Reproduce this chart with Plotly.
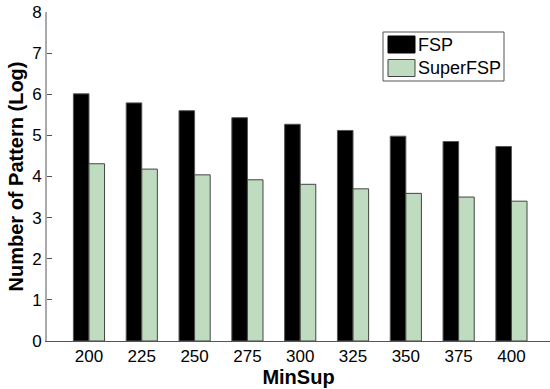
import plotly.graph_objects as go

# MinSup thresholds and log-scaled pattern counts
min_sup = ["200", "225", "250", "275", "300", "325", "350", "375", "400"]
fsp = [6.01, 5.79, 5.60, 5.43, 5.27, 5.12, 4.98, 4.85, 4.73]
super_fsp = [4.31, 4.18, 4.04, 3.92, 3.81, 3.70, 3.59, 3.50, 3.40]

series_names = ["FSP", "SuperFSP"]
series_fill = ["#000000", "#c0dcc0"]
series_edge = ["#555555", "#444444"]

font_family = "Arial, Liberation Sans, sans-serif"

W, H = 550, 389
M_L, M_R, M_T, M_B = 47, 0, 12, 48


def px_x(px):
    """Pixel column -> paper x."""
    return (px - M_L) / (W - M_L - M_R)


def px_y(py):
    """Pixel row -> paper y."""
    return (H - M_B - py) / (H - M_T - M_B)


fig = go.Figure()
for name, vals, fill, edge in zip(series_names, [fsp, super_fsp], series_fill, series_edge):
    fig.add_trace(go.Bar(
        x=min_sup, y=vals, name=name,
        marker=dict(color=fill, line=dict(color=edge, width=1)),
    ))

# Boxed legend with large rectangular swatches
shapes = [dict(
    type="rect", xref="paper", yref="paper",
    x0=px_x(383), x1=px_x(504), y0=px_y(81), y1=px_y(32),
    line=dict(color="#555555", width=1), fillcolor="white", layer="above",
)]
annotations = []
for i, (name, fill, edge) in enumerate(zip(series_names, series_fill, series_edge)):
    top = 36 + i * 23.5
    shapes.append(dict(
        type="rect", xref="paper", yref="paper",
        x0=px_x(388), x1=px_x(415), y0=px_y(top + 17), y1=px_y(top),
        line=dict(color=edge if i else fill, width=1), fillcolor=fill, layer="above",
    ))
    annotations.append(dict(
        text=name, xref="paper", yref="paper",
        x=px_x(416), y=px_y(top + 9), xanchor="left", yanchor="middle",
        showarrow=False, font=dict(size=18, color="#000000"),
    ))

fig.update_layout(
    width=W, height=H,
    margin=dict(l=M_L, r=M_R, t=M_T, b=M_B),
    paper_bgcolor="white", plot_bgcolor="white",
    barmode="group", bargap=0.41, bargroupgap=0,
    font=dict(family=font_family, size=17, color="#000000"),
    showlegend=False,
    shapes=shapes,
    annotations=annotations,
    xaxis=dict(
        type="category", range=[-0.795, 8.73],
        showline=True, linecolor="#555555", linewidth=1,
        ticks="", showgrid=False, zeroline=False,
        tickfont=dict(size=17),
        title=dict(text="<b>MinSup</b>", font=dict(size=20), standoff=0),
    ),
    yaxis=dict(
        range=[0, 8], dtick=1,
        showline=True, linecolor="#aaaaaa", linewidth=2,
        ticks="inside", ticklen=5, tickcolor="#555555",
        showgrid=False, zeroline=False,
        tickfont=dict(size=17),
        title=dict(text="<b>Number of Pattern (Log)</b>", font=dict(size=20), standoff=3),
    ),
)

fig.write_html("out.html")
